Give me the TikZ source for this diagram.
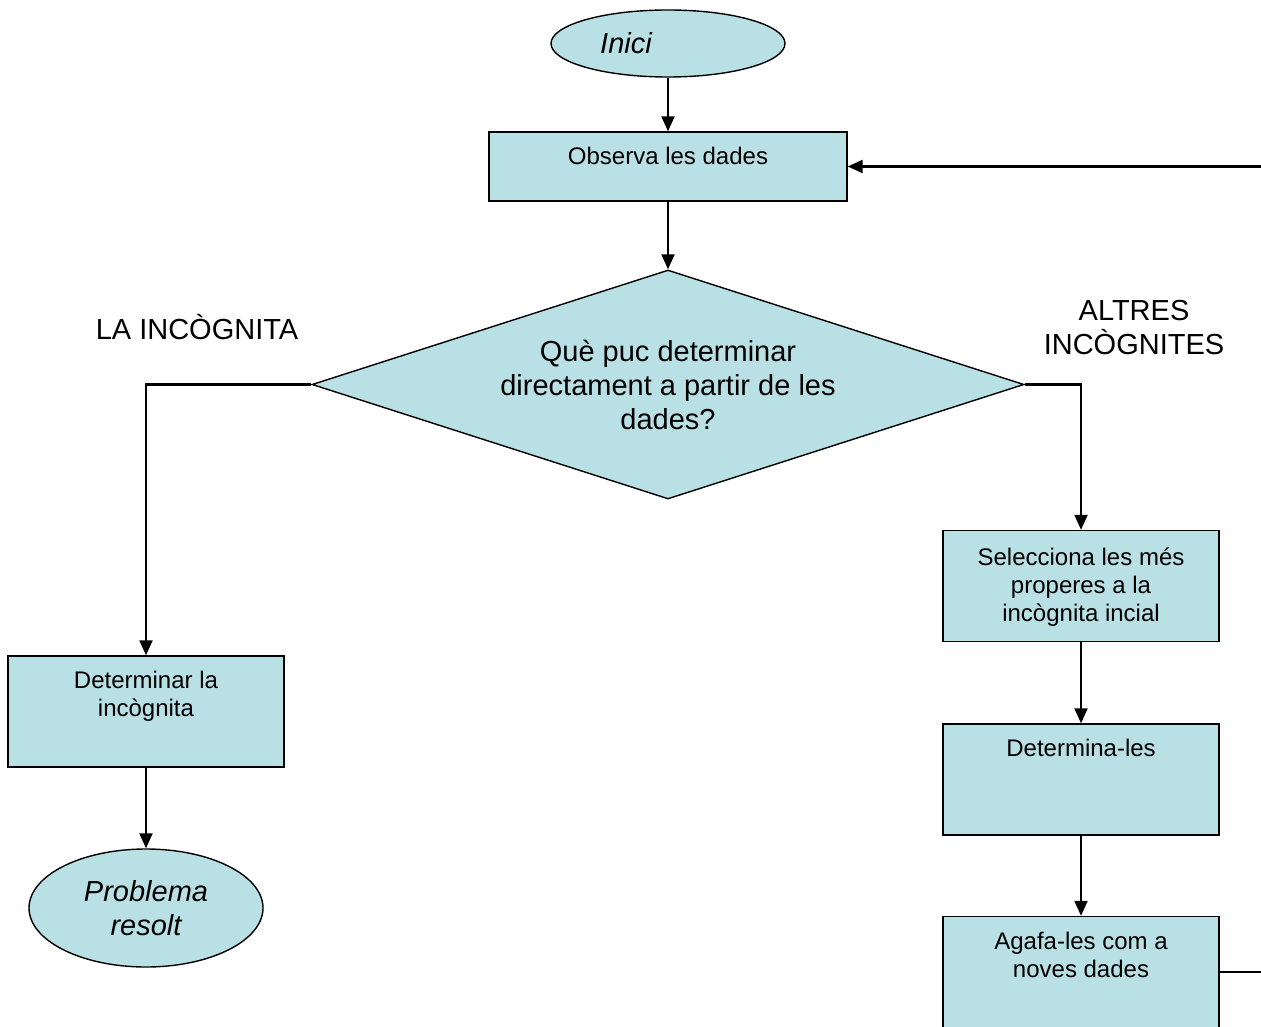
\documentclass[tikz,border=0pt]{standalone}
\usepackage{fontspec}
\setmainfont{Liberation Sans}
\usetikzlibrary{arrows.meta,positioning,shapes.geometric}
\definecolor{boxfill}{RGB}{185,224,228}

\begin{document}
\begin{tikzpicture}[
    x=0.5pt, y=-0.5pt,
    >={Triangle[length=7.5pt,width=6.5pt]},
    every path/.style={line width=1.1pt},
    proc/.style={rectangle,draw,fill=boxfill,line width=0.7pt,minimum width=138pt,minimum height=55.5pt,inner sep=0pt},
    term/.style={ellipse,draw,fill=boxfill,line width=0.7pt,minimum width=117pt,minimum height=33.5pt,inner sep=0pt,align=center,font=\fontsize{14.5}{17}\selectfont\itshape},
    quest/.style={diamond,draw,fill=boxfill,line width=0.7pt,aspect=3.1,minimum width=356pt,minimum height=114.5pt,inner sep=0pt,align=center,font=\fontsize{14.5}{17}\selectfont},
    txt/.style={anchor=north,yshift=-7.5pt,inner sep=0pt,align=center,font=\fontsize{12}{14}\selectfont},
    lbl/.style={inner sep=0pt,align=center,font=\fontsize{14.5}{17}\selectfont}
  ]
  \useasboundingbox (0,0) rectangle (1261,1026);

  % main column
  \node[term] (inici) at (668,43.5) {Inici\hspace*{42pt}};
  \node[proc,minimum width=179pt,minimum height=34.5pt] (obs) at (668,166.5) {};
  \node[txt] (obs-t) at (obs.north) {Observa les dades};
  \node[quest] (quest) at (668,384.5) {Què puc determinar\\directament a partir de les\\dades?};

  % left branch
  \node[lbl] (la) at (197,327) {LA INCÒGNITA};
  \node[proc] (det) at (146,711.5) {};
  \node[txt] (det-t) at (det.north) {Determinar la\\incògnita};
  \node[term,minimum height=59pt] (fin) at (146,908) {Problema\\resolt};

  % right branch
  \node[lbl] (altres) at (1134,328) {ALTRES\\INCÒGNITES};
  \node[proc] (sel) at (1081,586) {};
  \node[txt,yshift=-1pt] (sel-t) at (sel.north) {Selecciona les més\\properes a la\\incògnita incial};
  \node[proc] (detles) at (1081,779.5) {};
  \node[txt] (detles-t) at (detles.north) {Determina-les};
  \node[proc] (agafa) at (1081,972) {};
  \node[txt] (agafa-t) at (agafa.north) {Agafa-les com a\\noves dades};

  \draw[->] (inici) -- (obs);
  \draw[->] (obs) -- (quest);
  \draw[->] (quest.west) -| (det.north);
  \draw[->] (det) -- (fin);
  \draw[->] (quest.east) -| (sel.north);
  \draw[->] (sel) -- (detles);
  \draw[->] (detles) -- (agafa);
  \draw[->] (agafa.east) -- ++(80,0) |- (obs.east);
\end{tikzpicture}
\end{document}
